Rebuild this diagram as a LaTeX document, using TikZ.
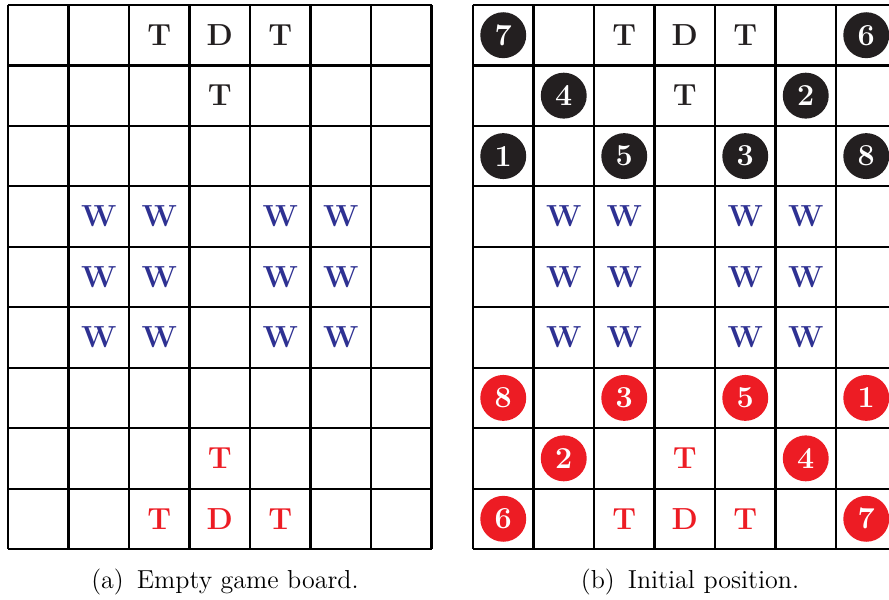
\documentclass[tikz,border=0pt]{standalone}
\usepackage{xcolor}
\usetikzlibrary{positioning}
\definecolor{Bk}{HTML}{231F20}
\definecolor{Rd}{HTML}{ED1C24}
\definecolor{Wb}{HTML}{2E3192}
\tikzset{
  gridline/.style={line width=0.9pt, black},
  tile/.style={inner sep=0pt, font=\fontsize{13pt}{15pt}\selectfont\bfseries},
  topT/.style={tile, text=Bk},
  botT/.style={tile, text=Rd},
  wall/.style={tile, text=Wb},
  blackpc/.style={circle, fill=Bk, text=white, inner sep=0pt, minimum size=19.6pt,
    font=\fontsize{13pt}{15pt}\selectfont\bfseries},
  redpc/.style={blackpc, fill=Rd},
  capt/.style={anchor=base, font=\fontsize{11.1pt}{13pt}\selectfont},
}
\newcommand{\Lpos}[2]{({38.25+60.5*#1}, {35.2+60.45*#2})}
\newcommand{\Rpos}[2]{({503.25+60.5*#1}, {35.2+60.45*#2})}
\newcommand{\gameboard}[1]{%
  \foreach \xx in {0,...,7} \draw[gridline] ({#1+60.5*\xx},5) -- ({#1+60.5*\xx},549.05);
  \foreach \yy in {0,...,9} \draw[gridline] (#1-0.4,{5+60.45*\yy}) -- ({#1+423.9},{5+60.45*\yy});}

\begin{document}
\begin{tikzpicture}[x=0.4268pt, y=-0.4268pt]
  \clip (0,0) rectangle (889,599);
  \fill[white] (0,0) rectangle (889,599);
  % (a) empty board
  \gameboard{8}
  \node[topT] (la-t1) at \Lpos{2}{0} {T};
  \node[topT] (la-d)  at \Lpos{3}{0} {D};
  \node[topT] (la-t2) at \Lpos{4}{0} {T};
  \node[topT] (la-t3) at \Lpos{3}{1} {T};
  \foreach \cc in {1,2,4,5}{\foreach \rr in {3,4,5}{%
    \node[wall] (la-w\cc\rr) at \Lpos{\cc}{\rr} {W};}}
  \node[botT] (la-t4) at \Lpos{3}{7} {T};
  \node[botT] (la-t5) at \Lpos{2}{8} {T};
  \node[botT] (la-e)  at \Lpos{3}{8} {D};
  \node[botT] (la-t6) at \Lpos{4}{8} {T};
  \node[capt] (capa) at (225,588) {(a)\enspace Empty game board.};
  % (b) initial position
  \gameboard{473}
  \node[topT] (lb-t1) at \Rpos{2}{0} {T};
  \node[topT] (lb-d)  at \Rpos{3}{0} {D};
  \node[topT] (lb-t2) at \Rpos{4}{0} {T};
  \node[topT] (lb-t3) at \Rpos{3}{1} {T};
  \foreach \cc in {1,2,4,5}{\foreach \rr in {3,4,5}{%
    \node[wall] (lb-w\cc\rr) at \Rpos{\cc}{\rr} {W};}}
  \node[botT] (lb-t4) at \Rpos{3}{7} {T};
  \node[botT] (lb-t5) at \Rpos{2}{8} {T};
  \node[botT] (lb-e)  at \Rpos{3}{8} {D};
  \node[botT] (lb-t6) at \Rpos{4}{8} {T};
  \node[blackpc] (bk7) at \Rpos{0}{0} {7};
  \node[blackpc] (bk6) at \Rpos{6}{0} {6};
  \node[blackpc] (bk4) at \Rpos{1}{1} {4};
  \node[blackpc] (bk2) at \Rpos{5}{1} {2};
  \node[blackpc] (bk1) at \Rpos{0}{2} {1};
  \node[blackpc] (bk5) at \Rpos{2}{2} {5};
  \node[blackpc] (bk3) at \Rpos{4}{2} {3};
  \node[blackpc] (bk8) at \Rpos{6}{2} {8};
  \node[redpc] (rd8) at \Rpos{0}{6} {8};
  \node[redpc] (rd3) at \Rpos{2}{6} {3};
  \node[redpc] (rd5) at \Rpos{4}{6} {5};
  \node[redpc] (rd1) at \Rpos{6}{6} {1};
  \node[redpc] (rd2) at \Rpos{1}{7} {2};
  \node[redpc] (rd4) at \Rpos{5}{7} {4};
  \node[redpc] (rd6) at \Rpos{0}{8} {6};
  \node[redpc] (rd7) at \Rpos{6}{8} {7};
  \node[capt] (capb) at (690,588) {(b)\enspace Initial position.};
\end{tikzpicture}
\end{document}
